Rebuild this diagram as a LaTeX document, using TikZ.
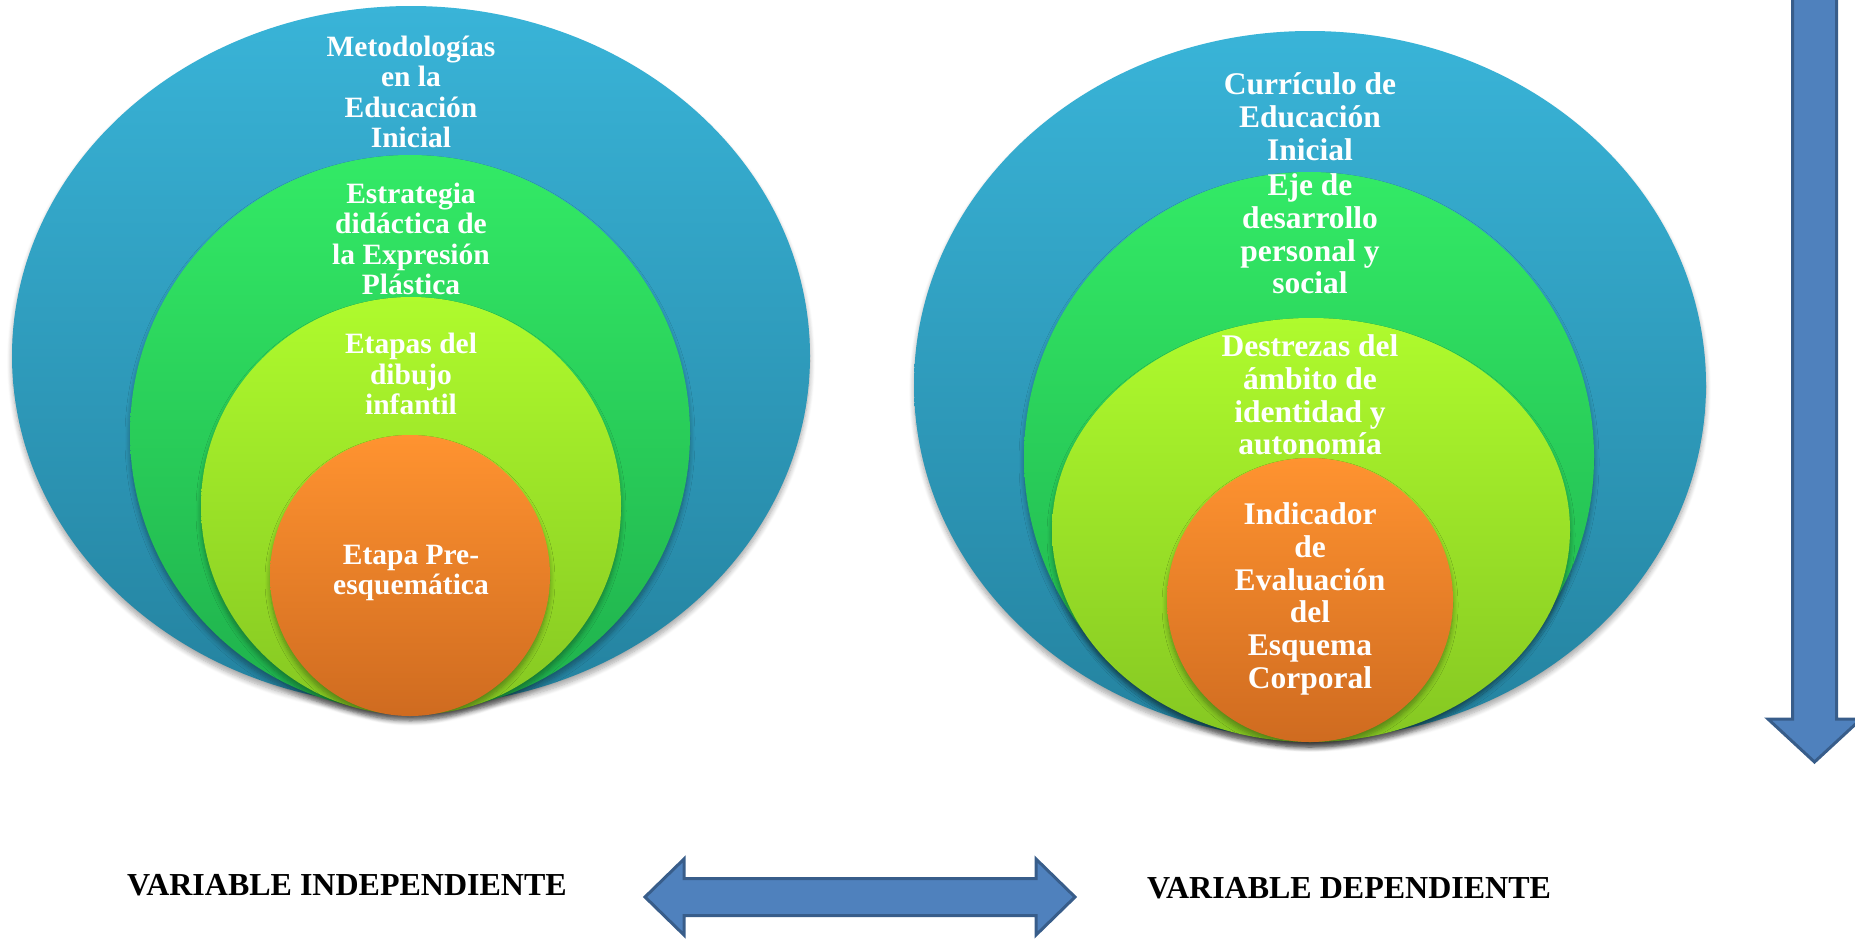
\documentclass[tikz,border=0pt]{standalone}
\usepackage{fontspec}
\setmainfont{Liberation Serif}
\usetikzlibrary{shapes.geometric,shadows.blur}
\definecolor{blueT}{HTML}{39B4D8}
\definecolor{blueB}{HTML}{24829F}
\definecolor{greenT}{HTML}{33EA66}
\definecolor{greenB}{HTML}{1FB04C}
\definecolor{yelT}{HTML}{AFFB2D}
\definecolor{yelB}{HTML}{85C722}
\definecolor{orT}{HTML}{FF9330}
\definecolor{orB}{HTML}{CF6B20}
\definecolor{arrFill}{HTML}{4F81BD}
\definecolor{arrLine}{HTML}{385D8A}
\tikzset{
  ring/.style={ellipse, inner sep=0pt, draw=none,
    blur shadow={shadow xshift=0pt, shadow yshift=-5pt, shadow blur radius=5pt, shadow blur steps=8, shadow opacity=35}},
  blues/.style={ring, top color=blueT, bottom color=blueB},
  greens/.style={ring, top color=greenT, bottom color=greenB},
  yels/.style={ring, top color=yelT, bottom color=yelB},
  oranges/.style={ring, top color=orT, bottom color=orB},
  ltxt/.style={text=white, align=center, inner sep=0pt, font=\bfseries\fontsize{29.5}{30.4}\selectfont},
  rtxt/.style={text=white, align=center, inner sep=0pt, font=\bfseries\fontsize{31.5}{32.8}\selectfont},
  vartxt/.style={text=black, inner sep=0pt, anchor=base, font=\bfseries\fontsize{32}{36}\selectfont},
  bigarrow/.style={fill=arrFill, draw=arrLine, line width=3pt, line join=miter}
}
\begin{document}
\begin{tikzpicture}[x=1pt,y=-1pt]
\useasboundingbox (0,0) rectangle (1855,938);
% left set
\node[blues, minimum width=798, minimum height=700] (lo) at (411,356) {};
\node[greens, minimum width=560, minimum height=557] (lg) at (410,433.5) {};
\node[yels, minimum width=420, minimum height=418] (ly) at (411,506) {};
\node[oranges, minimum width=280, minimum height=281] (lr) at (410,575.5) {};
\node[ltxt] (lt1) at (411,92) {Metodologías\\en la\\Educación\\Inicial};
\node[ltxt] (lt2) at (411,239) {Estrategia\\didáctica de\\la Expresión\\Plástica};
\node[ltxt] (lt3) at (411,374) {Etapas del\\dibujo\\infantil};
\node[ltxt] (lt4) at (411,573) {Etapa Pre-\\esquemática};
% right set
\node[blues, minimum width=792, minimum height=708] (ro) at (1310,385) {};
\node[greens, minimum width=570, minimum height=570] (rg) at (1309,457) {};
\node[yels, minimum width=518, minimum height=424] (ry) at (1311,530) {};
\node[oranges, minimum width=286, minimum height=284] (rr) at (1310,600) {};
\node[rtxt] (rt1) at (1310,117) {Currículo de\\Educación\\Inicial};
\node[rtxt] (rt2) at (1310,234) {Eje de\\desarrollo\\personal y\\social};
\node[rtxt] (rt3) at (1310,395) {Destrezas del\\ámbito de\\identidad y\\autonomía};
\node[rtxt] (rt4) at (1310,599) {Indicador\\de\\Evaluación\\del\\Esquema\\Corporal};
% labels
\node[vartxt] (vi) at (347,895) {VARIABLE INDEPENDIENTE};
\node[vartxt] (vd) at (1349,898) {VARIABLE DEPENDIENTE};
% double arrow
\draw[bigarrow] (645,897) -- (684,859) -- (684,878.5) -- (1036,878.5) -- (1036,859)
  -- (1075,897) -- (1036,935) -- (1036,915.5) -- (684,915.5) -- (684,935) -- cycle;
% down arrow
\draw[bigarrow] (1792.5,-10) -- (1792.5,719) -- (1768,719) -- (1814.5,762)
  -- (1861,719) -- (1836.5,719) -- (1836.5,-10) -- cycle;
\end{tikzpicture}
\end{document}
